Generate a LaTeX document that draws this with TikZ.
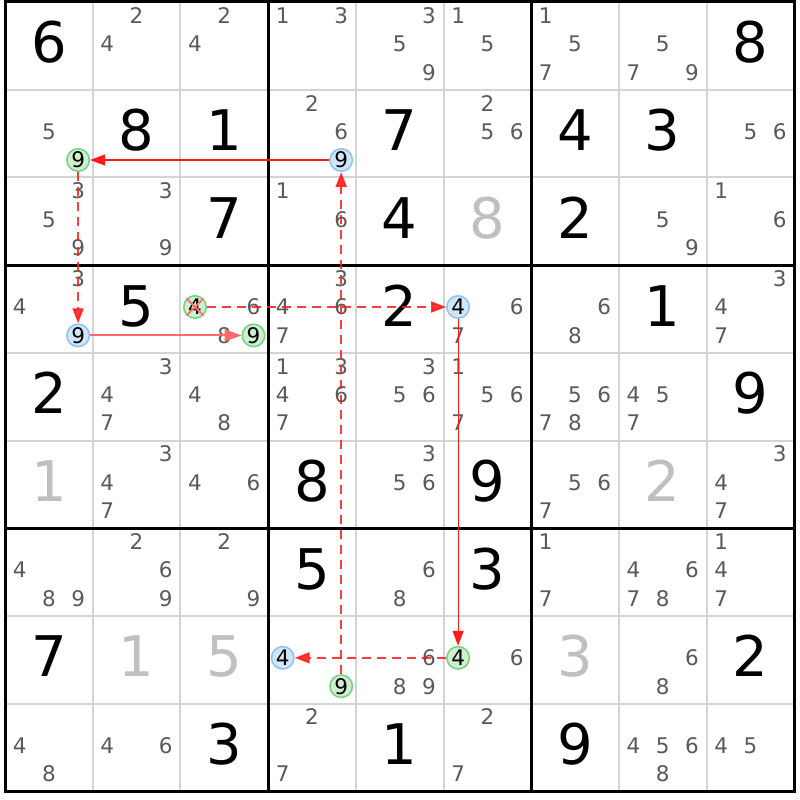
\documentclass[tikz,border=0pt]{standalone}
\usepackage{fontspec}
\setmainfont{DejaVu Sans}
\usetikzlibrary{arrows.meta}
\definecolor{candgray}{HTML}{5A5A5A}
\definecolor{solvgray}{HTML}{C0C0C0}
\definecolor{gridgray}{HTML}{D4D4D4}
\definecolor{bluefill}{HTML}{D2E6FA}
\definecolor{bluedraw}{HTML}{8CC2F5}
\definecolor{greenfill}{HTML}{CDEFCF}
\definecolor{greendraw}{HTML}{74D27C}
\definecolor{linkred}{HTML}{FF1A1A}
\definecolor{lightlink}{HTML}{FF6B6B}
\tikzset{
  bigdigit/.style={font=\fontsize{56}{56}\selectfont, anchor=base, inner sep=0pt},
  givendigit/.style={bigdigit, text=black},
  solveddigit/.style={bigdigit, text=solvgray},
  canddigit/.style={font=\fontsize{21.5}{22}\selectfont, text=candgray, anchor=base, inner sep=0pt},
  circcand/.style={circle, font=\fontsize{21.5}{22}\selectfont, text=black, inner sep=0pt,
    minimum size=22.5pt, text height=15.6pt, text depth=0pt, line width=1.5pt},
  bluecand/.style={circcand, draw=bluedraw, fill=bluefill},
  greencand/.style={circcand, draw=greendraw, fill=greenfill},
  thingrid/.style={draw=gridgray, line width=2pt},
  boxline/.style={draw=black, line width=3pt},
  stronglink/.style={draw=linkred, line width=1.2pt, -{Triangle[length=15pt,width=11pt]}},
  strongwide/.style={draw=lightlink, line width=2pt, -{Triangle[length=17pt,width=12pt]}},
  weaklink/.style={draw=linkred, opacity=0.85, line width=2pt, dash pattern=on 9pt off 6pt, -{Triangle[length=15pt,width=11pt]}},
  redx/.style={draw=red!55, line width=2pt}
}
\begin{document}
\begin{tikzpicture}[x=1pt,y=-1pt]
\useasboundingbox (0,0) rectangle (800,800);
\fill[white] (0,0) rectangle (800,800);
% thin grid lines
\foreach \i in {1,2,4,5,7,8}{
  \draw[thingrid] ({5+\i*87.7},2) -- ({5+\i*87.7},791.3);
  \draw[thingrid] (5,{2+\i*87.7}) -- (794.3,{2+\i*87.7});
}
% box lines
\foreach \i in {0,3,6,9}{
  \draw[boxline] ({5+\i*87.7},0.5) -- ({5+\i*87.7},792.8);
  \draw[boxline] (3.5,{2+\i*87.7}) -- (795.8,{2+\i*87.7});
}
% given digits
\foreach \r/\c/\d in {1/1/6,1/9/8,2/2/8,2/3/1,2/5/7,2/7/4,2/8/3,3/3/7,3/5/4,3/7/2,
  4/2/5,4/5/2,4/8/1,5/1/2,5/9/9,6/4/8,6/6/9,7/4/5,7/6/3,8/1/7,8/9/2,9/3/3,9/5/1,9/7/9}{
  \node[givendigit] (g\r\c) at ({5+(\c-1)*87.7+43.85},{2+(\r-1)*87.7+61}) {\d};
}
% solved digits
\foreach \r/\c/\d in {3/6/8,6/1/1,6/8/2,8/2/1,8/3/5,8/7/3}{
  \node[solveddigit] (s\r\c) at ({5+(\c-1)*87.7+43.85},{2+(\r-1)*87.7+61}) {\d};
}
% candidates
\foreach \r/\c/\L in {1/2/{2,4},1/3/{2,4},1/4/{1,3},1/5/{3,5,9},1/6/{1,5},1/7/{1,5,7},1/8/{5,7,9},
  2/1/{5},2/4/{2,6},2/6/{2,5,6},2/9/{5,6},
  3/1/{3,5,9},3/2/{3,9},3/4/{1,6},3/8/{5,9},3/9/{1,6},
  4/1/{3,4},4/3/{6,8},4/4/{3,4,6,7},4/6/{6,7},4/7/{6,8},4/9/{3,4,7},
  5/2/{3,4,7},5/3/{4,8},5/4/{1,3,4,6,7},5/5/{3,5,6},5/6/{1,5,6,7},5/7/{5,6,7,8},5/8/{4,5,7},
  6/2/{3,4,7},6/3/{4,6},6/5/{3,5,6},6/7/{5,6,7},6/9/{3,4,7},
  7/1/{4,8,9},7/2/{2,6,9},7/3/{2,9},7/5/{6,8},7/7/{1,7},7/8/{4,6,7,8},7/9/{1,4,7},
  8/5/{6,8,9},8/6/{6},8/8/{6,8},
  9/1/{4,8},9/2/{4,6},9/4/{2,7},9/6/{2,7},9/8/{4,5,6,8},9/9/{4,5}}{
  \foreach \d in \L {
    \node[canddigit] (k\r\c\d) at ({5+(\c-1)*87.7+14.6+29.25*mod(\d-1,3)},{2+(\r-1)*87.7+21.3+28.4*floor((\d-1)/3)}) {\d};
  }
}
% circled candidates
\node[bluecand]  (b249) at (341.2,160.0) {9};
\node[greencand] (g219) at (78.1,160.0) {9};
\node[bluecand]  (b419) at (78.1,335.4) {9};
\node[greencand] (g434) at (195.0,307.0) {4};
\node[greencand] (g439) at (253.5,335.4) {9};
\node[bluecand]  (b464) at (458.1,307.0) {4};
\node[bluecand]  (b844) at (282.7,657.8) {4};
\node[greencand] (g849) at (341.2,686.2) {9};
\node[greencand] (g864) at (458.1,657.8) {4};
% eliminated candidate
\draw[redx] (g434.north west) -- (g434.south east);
\draw[redx] (g434.north east) -- (g434.south west);
% chain links
\draw[stronglink] (b249) -- (g219);
\draw[weaklink] (g219) -- (b419);
\draw[strongwide] (b419) -- (g439);
\draw[weaklink] (g849) -- (b249);
\draw[weaklink] (g434) -- (b464);
\draw[stronglink] (b464) -- (g864);
\draw[weaklink] (g864) -- (b844);
\end{tikzpicture}
\end{document}
